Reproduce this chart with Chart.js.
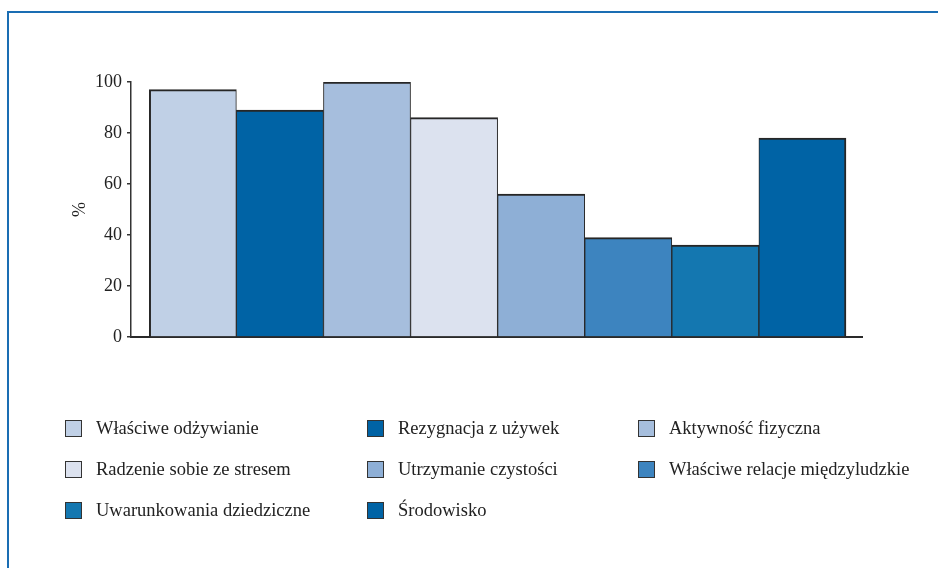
<!DOCTYPE html>
<html lang="pl">
<head>
<meta charset="utf-8">
<title>Czynniki wpływające na zdrowie</title>
<script src="https://cdn.jsdelivr.net/npm/chart.js@4/dist/chart.umd.min.js"></script>
<style>
  html, body { margin: 0; padding: 0; background: #fff; }
  #wrap { position: relative; width: 938px; height: 568px; overflow: hidden; }
  #frame {
    position: absolute; left: 7px; top: 11px; right: -10px; bottom: -10px;
    border-top: 2px solid #1a6db3; border-left: 2px solid #1a6db3;
  }
  #chart { position: absolute; left: 0; top: 0; }
  .legend-item {
    position: absolute; display: flex; align-items: center;
    font: 18.5px "Liberation Serif", "Times New Roman", serif; color: #222; white-space: nowrap;
  }
  .legend-box { width: 15px; height: 15px; border: 1.5px solid #333; margin-right: 14px; }
</style>
</head>
<body>
<div id="wrap">
  <div id="frame"></div>
  <canvas id="chart" width="938" height="568"></canvas>
  <div id="legend"></div>
</div>
<script>
// Factors rated as important for health, % of respondents
const categories = [
  'Właściwe odżywianie',
  'Rezygnacja z używek',
  'Aktywność fizyczna',
  'Radzenie sobie ze stresem',
  'Utrzymanie czystości',
  'Właściwe relacje międzyludzkie',
  'Uwarunkowania dziedziczne',
  'Środowisko'
];
const values = [97, 89, 100, 86, 56, 39, 36, 78];
const colors = ['#c0d0e6', '#0063a5', '#a6bedd', '#dce2ef', '#8eafd6', '#3d84bf', '#1477b0', '#0063a5'];

const serif = '"Liberation Serif", "Times New Roman", serif';

// Legend in three columns, filled row by row
const legendCols = [65, 367, 638];
const legendRows = [428, 469, 510];
const legend = document.getElementById('legend');
legend.innerHTML = categories.map((name, i) => `
  <div class="legend-item" style="left:${legendCols[i % 3]}px; top:${legendRows[Math.floor(i / 3)] - 11}px; height:22px">
    <span class="legend-box" style="background:${colors[i]}"></span>${name}
  </div>
`).join('');

// Neighbouring bars share an edge, so inner sides get half width
const barBorder = ctx => ({
  top: 2,
  left: ctx.dataIndex === 0 ? 2 : 1,
  right: ctx.dataIndex === values.length - 1 ? 2 : 1,
  bottom: 0
});

new Chart(document.getElementById('chart'), {
  type: 'bar',
  data: {
    datasets: [{
      data: values.map((v, i) => ({ x: i, y: v })),
      backgroundColor: colors,
      borderColor: '#262626',
      borderWidth: barBorder,
      barPercentage: 1,
      categoryPercentage: 1
    }]
  },
  options: {
    responsive: false,
    animation: false,
    layout: { padding: { left: 0, top: 82, right: 76, bottom: 231 } },
    plugins: { legend: { display: false }, tooltip: { enabled: false } },
    scales: {
      x: {
        type: 'linear',
        offset: false,
        min: -0.71,
        max: 7.684,
        // one tick per bar so bars are one unit wide
        afterBuildTicks: s => { s.ticks = values.map((v, i) => ({ value: i })); },
        afterFit: s => { s.height = 0; },
        ticks: { display: false },
        grid: { display: false },
        border: { color: '#2a2a2a', width: 2 }
      },
      y: {
        min: 0,
        max: 100,
        afterFit: s => { s.width = 131; },
        ticks: { stepSize: 20, padding: 5, color: '#222', font: { family: serif, size: 18 } },
        grid: { drawOnChartArea: false, tickLength: 4, color: '#333', lineWidth: 1.5 },
        border: { color: '#333', width: 1.5 },
        title: {
          display: true,
          text: '%',
          color: '#222',
          font: { family: serif, size: 18 },
          padding: { top: 69, bottom: 0 }
        }
      }
    }
  }
});
</script>
</body>
</html>
